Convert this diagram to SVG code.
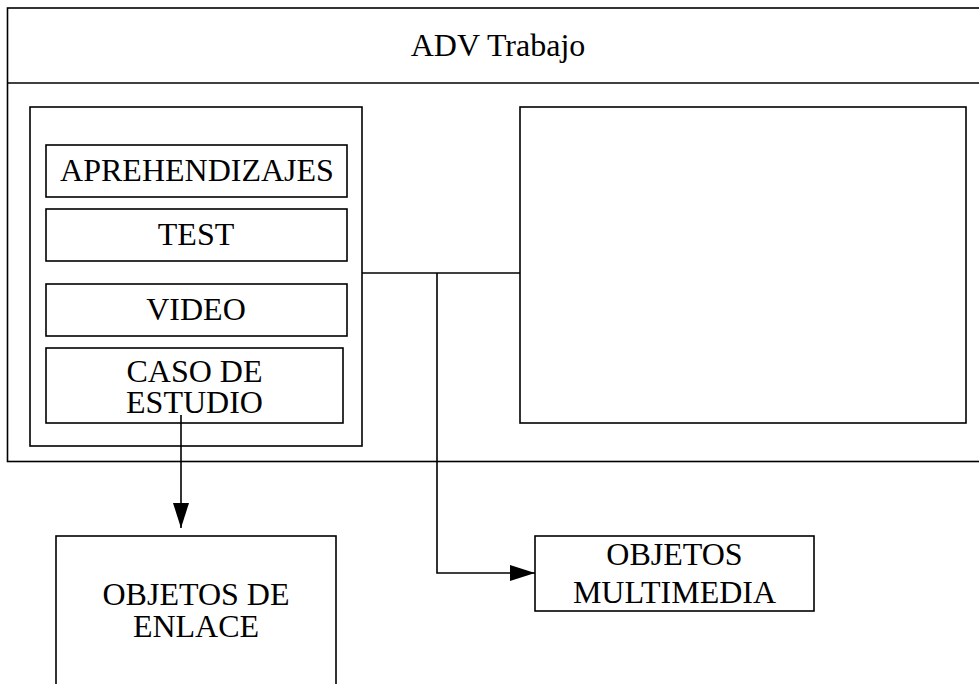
<svg xmlns="http://www.w3.org/2000/svg" width="979" height="684" viewBox="0 0 979 684">
<defs>
<style>
.box{fill:none;stroke:#000;stroke-width:1.6}
.t{font-family:"Liberation Serif","Times New Roman",serif;font-size:32px;fill:#000;text-anchor:middle}
.c{fill:none;stroke:#000;stroke-width:1.6}
</style>
<marker id="ah" markerWidth="25" markerHeight="16" refX="25" refY="8" orient="auto" markerUnits="userSpaceOnUse">
<path d="M0,0 L25,8 L0,16 Z" fill="#000"/>
</marker>
</defs>
<rect width="979" height="684" fill="#fff"/>
<g id="adv-trabajo">
<rect class="box" x="7.5" y="8" width="980" height="453.5"/>
<line class="box" x1="7.5" y1="83" x2="979" y2="83"/>
<text class="t" x="498" y="56">ADV Trabajo</text>
</g>
<g id="panel-left">
<rect class="box" x="30" y="107" width="332" height="339"/>
</g>
<g id="aprehendizajes">
<rect class="box" x="46" y="145" width="301" height="52"/>
<text class="t" x="197" y="181">APREHENDIZAJES</text>
</g>
<g id="test">
<rect class="box" x="46" y="209" width="301" height="52"/>
<text class="t" x="196" y="245">TEST</text>
</g>
<g id="video">
<rect class="box" x="46" y="284" width="301" height="52"/>
<text class="t" x="196" y="320">VIDEO</text>
</g>
<g id="caso-de-estudio">
<rect class="box" x="46" y="348" width="297" height="75"/>
<text class="t" x="194.5" y="382">CASO DE</text>
<text class="t" x="194.5" y="413">ESTUDIO</text>
</g>
<g id="panel-right">
<rect class="box" x="520" y="107" width="446" height="316"/>
</g>
<g id="objetos-de-enlace">
<rect class="box" x="56" y="536" width="280" height="170"/>
<text class="t" x="196" y="605">OBJETOS DE</text>
<text class="t" x="196" y="637">ENLACE</text>
</g>
<g id="objetos-multimedia">
<rect class="box" x="535" y="536" width="279" height="75"/>
<text class="t" x="674.5" y="565">OBJETOS</text>
<text class="t" x="674.5" y="603">MULTIMEDIA</text>
</g>
<g id="connectors">
<line class="c" x1="362" y1="273" x2="520" y2="273"/>
<polyline class="c" points="437,273 437,573 535,573" marker-end="url(#ah)"/>
<line class="c" x1="181" y1="415" x2="181" y2="528" marker-end="url(#ah)"/>
</g>
</svg>
